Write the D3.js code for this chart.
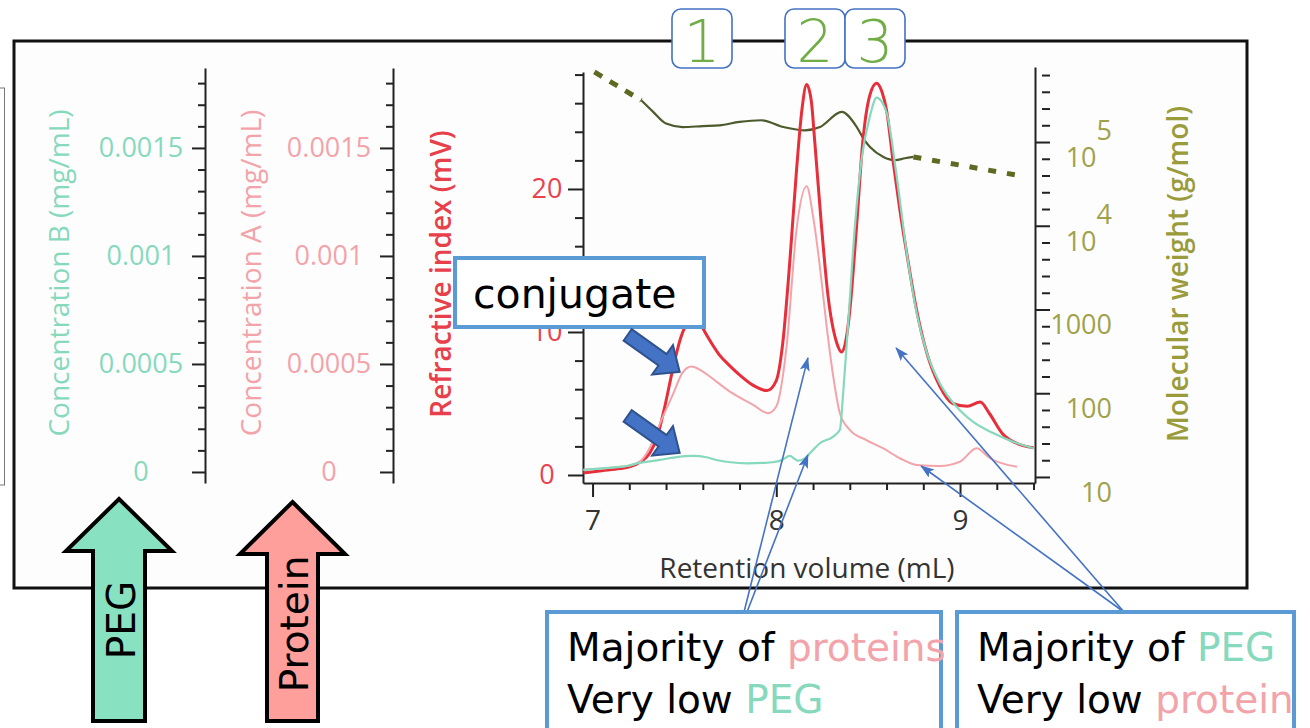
<!DOCTYPE html>
<html>
<head>
<meta charset="utf-8">
<script src="https://cdn.jsdelivr.net/npm/d3@7"></script>
<style>
body { margin: 0; background: #fff; }
svg { display: block; }
</style>
</head>
<body>
<script>
// refractive index trace (mV) against retention volume (mL)
var riVolume = [6.95, 7.05, 7.15, 7.21, 7.26, 7.31, 7.35, 7.39, 7.44, 7.48, 7.52, 7.55, 7.58, 7.62, 7.69, 7.75, 7.80, 7.87, 7.95, 8.00,
                8.035, 8.074, 8.11, 8.14, 8.165, 8.19, 8.21, 8.246, 8.28, 8.33, 8.355, 8.38, 8.40, 8.437, 8.47, 8.51, 8.546, 8.575, 8.60,
                8.635, 8.673, 8.71, 8.764, 8.82, 8.89, 8.96, 9.04, 9.11, 9.16, 9.23, 9.33, 9.40];
var riSignal = [0.15, 0.3, 0.45, 0.6, 0.9, 1.5, 2.6, 4.6, 7.6, 9.6, 10.7, 11.0, 10.7, 9.8, 8.4, 7.6, 7.0, 6.3, 5.9, 6.6,
                9.2, 15, 21.3, 25.6, 27.3, 26.2, 23.2, 17.4, 12.7, 9.2, 8.6, 9.5, 11.5, 17.4, 23.2, 26.6, 27.4, 26.8, 25.5,
                22, 18.5, 15.5, 11.5, 8.5, 6.2, 5.0, 4.8, 5.1, 4.3, 2.9, 2.1, 1.9];

// concentration A (protein, mg/mL)
var protVolume = [6.95, 7.1, 7.2, 7.26, 7.31, 7.35, 7.39, 7.438, 7.49, 7.538, 7.59, 7.638, 7.747, 7.874, 7.955, 8.0, 8.056, 8.11, 8.165, 8.20,
                  8.237, 8.274, 8.31, 8.346, 8.40, 8.49, 8.58, 8.673, 8.764, 8.89, 9.0, 9.09, 9.163, 9.31];
var protConc = [0.00001, 0.00002, 0.00003, 0.00005, 0.00011, 0.00019, 0.00027, 0.00036, 0.00046, 0.000488, 0.00047, 0.000442, 0.000372, 0.000311, 0.000272, 0.000303, 0.000581, 0.001122, 0.001323, 0.001184,
                0.000952, 0.000674, 0.000442, 0.000272, 0.000195, 0.000148, 0.00011, 0.0000635, 0.0000325, 0.0000278, 0.0000478, 0.00011, 0.0000635, 0.0000246];

// concentration B (PEG, mg/mL)
var pegVolume = [6.95, 7.1, 7.2, 7.24, 7.3, 7.365, 7.45, 7.547, 7.62, 7.674, 7.75, 7.84, 7.93, 7.98, 8.03, 8.074, 8.1, 8.117, 8.15, 8.183,
                 8.237, 8.31, 8.346, 8.364, 8.39, 8.428, 8.464, 8.51, 8.546, 8.60, 8.655, 8.71, 8.764, 8.82, 8.89, 8.98, 9.07, 9.18, 9.31, 9.40];
var pegConc = [0.00001, 0.00002, 0.00003, 0.00004, 0.000048, 0.0000557, 0.000068, 0.0000742, 0.000068, 0.0000557, 0.000045, 0.00004, 0.000042, 0.000045, 0.000055, 0.0000742, 0.00006, 0.0000524, 0.00006, 0.0000867,
               0.000133, 0.000164, 0.000195, 0.000365, 0.000674, 0.001138, 0.001447, 0.001648, 0.001733, 0.001664, 0.00137, 0.001014, 0.000736, 0.00055, 0.000411, 0.000303, 0.000233, 0.00018, 0.000133, 0.00011];

// molecular weight (g/mol): dashed fit ends + measured middle
var mwFitLowVolume = [7.01, 7.265];
var mwFitLow = [687000, 315000];
var mwVolume = [7.265, 7.33, 7.40, 7.49, 7.60, 7.69, 7.80, 7.918, 8.04, 8.156, 8.238, 8.356, 8.438, 8.48, 8.51, 8.583, 8.647, 8.70, 8.746];
var mwValue = [315000, 229000, 166000, 151000, 155000, 158000, 174000, 182000, 151000, 138000, 151000, 229000, 151000, 105000, 87300, 66400, 60700, 64000, 66400];
var mwFitHighVolume = [8.746, 9.31];
var mwFitHigh = [66400, 40200];

// axes ticks
var xTicks = [7, 8, 9];
var xTickLabels = ["7", "8", "9"];
var concTicks = [0, 0.0005, 0.001, 0.0015];
var concTickLabels = ["0", "0.0005", "0.001", "0.0015"];
var riTicks = [0, 10, 20];
var riTickLabels = ["0", "10", "20"];
var mwTicks = [10, 100, 1000, 1e4, 1e5];
var mwTickBase = ["10", "100", "1000", "10", "10"];
var mwTickExp = ["", "", "", "4", "5"];

var teal = "#86d9bd", pink = "#f3a3aa", red = "#e62f3b", olive = "#9a9c3c", blue = "#4472c4", boxBlue = "#5b9bd5";

var svg = d3.select("body").append("svg")
    .attr("width", 1310)
    .attr("height", 728);

var defs = svg.append("defs");
defs.append("marker")
    .attr("id", "head")
    .attr("markerUnits", "userSpaceOnUse")
    .attr("markerWidth", 14).attr("markerHeight", 10)
    .attr("refX", 13).attr("refY", 5)
    .attr("orient", "auto")
    .append("path")
    .attr("d", "M0,0L14,5L0,10L3,5z")
    .attr("fill", blue);

// little box peeking in at the left edge
svg.append("rect").attr("x", -10).attr("y", 88).attr("width", 14.5).attr("height", 397)
    .attr("fill", "none").attr("stroke", "#777").attr("stroke-width", 1);

// chart frame
svg.append("rect").attr("x", 14).attr("y", 41).attr("width", 1233).attr("height", 547)
    .attr("fill", "#fdfdfd").attr("stroke", "#111").attr("stroke-width", 3);

var x = d3.scaleLinear().domain([6.948, 9.408]).range([583, 1035]);
var yRI = d3.scaleLinear().domain([-0.56, 28.18]).range([483, 72]);
var yConc = d3.scaleLinear().domain([-0.000051, 0.00187]).range([483, 68]);
var yMW = d3.scaleLog().domain([Math.pow(10, 0.928), Math.pow(10, 5.896)]).range([483, 67]);

function styleAxis(g, color, size) {
  g.select(".domain").attr("stroke", "#222").attr("stroke-width", 2);
  g.selectAll(".tick line").attr("stroke", "#222").attr("stroke-width", 2);
  g.selectAll(".tick text").attr("fill", color)
      .attr("font-family", "Open Sans").attr("font-size", size);
}

function minorTicks(axis, xpos, values, size) {
  var g = svg.append("g").attr("transform", "translate(" + xpos + ",0)")
      .call(axis.tickValues(values).tickSize(size).tickFormat(""));
  g.select(".domain").remove();
  g.selectAll(".tick line").attr("stroke", "#222").attr("stroke-width", 2);
  return g;
}

// concentration B and A axes
[[205, teal, "Concentration B (mg/mL)", 58], [393, pink, "Concentration A (mg/mL)", 250]].forEach(function(a) {
  minorTicks(d3.axisLeft(yConc), a[0], d3.range(1, 19).map(function(i) { return i * 0.0001; })
      .filter(function(v) { return Math.abs(v * 10000 % 5) > 0.01; }), 7);
  var g = svg.append("g").attr("transform", "translate(" + a[0] + ",0)")
      .call(d3.axisLeft(yConc).tickValues(concTicks).tickSize(13).tickSizeOuter(0)
        .tickFormat(function(d, i) { return concTickLabels[i]; }));
  styleAxis(g, a[1], 27);
  g.selectAll(".tick text").attr("x", -64).attr("text-anchor", "middle");
  svg.append("text")
      .attr("transform", "translate(" + a[3] + ",273) rotate(-90)")
      .attr("text-anchor", "middle").attr("dominant-baseline", "central")
      .attr("font-family", "Open Sans").attr("font-size", 28)
      .attr("fill", a[1]).text(a[2]);
});

// refractive index axis
minorTicks(d3.axisLeft(yRI), 583, d3.range(2, 29, 2).filter(function(v) { return v % 10 != 0; }), 8);
var riAxis = svg.append("g").attr("transform", "translate(583,0)")
    .call(d3.axisLeft(yRI).tickValues(riTicks).tickSize(15).tickSizeOuter(0)
      .tickFormat(function(d, i) { return riTickLabels[i]; }));
styleAxis(riAxis, "#e8434e", 27);
riAxis.selectAll(".tick text").attr("x", -36).attr("text-anchor", "middle");
svg.append("text")
    .attr("transform", "translate(440,274) rotate(-90)")
    .attr("text-anchor", "middle").attr("dominant-baseline", "central")
    .attr("font-family", "Open Sans").attr("font-size", 28).attr("font-weight", 600)
    .attr("fill", "#e8404b").text("Refractive index (mV)");

// molecular weight axis (log)
var mwMinor = [];
for (var k = 1; k <= 5; k++) {
  for (var j = 1; j <= 4; j++) {
    if (k + j * 0.2 <= 5.89) mwMinor.push(Math.pow(10, k + j * 0.2));
  }
}
minorTicks(d3.axisRight(yMW), 1035, mwMinor, 15).selectAll(".tick line").attr("x1", 7);
var mwAxis = svg.append("g").attr("transform", "translate(1035,0)")
    .call(d3.axisRight(yMW).tickValues(mwTicks).tickSize(15).tickSizeOuter(0).tickFormat(""));
styleAxis(mwAxis, olive, 27);
mwAxis.selectAll(".tick").each(function(d, i) {
  var t = d3.select(this).select("text")
      .attr("x", 77).attr("y", 15).attr("dy", "0.35em")
      .attr("text-anchor", "end").attr("fill", "#9fa24a");
  t.append("tspan").text(mwTickBase[i]);
  if (mwTickExp[i]) t.append("tspan").attr("dy", -27).text(mwTickExp[i]);
});
svg.append("text")
    .attr("transform", "translate(1177,274) rotate(-90)")
    .attr("text-anchor", "middle").attr("dominant-baseline", "central")
    .attr("font-family", "Open Sans").attr("font-size", 28).attr("font-weight", 600)
    .attr("fill", olive).text("Molecular weight (g/mol)");

// retention volume axis
var xMinor = d3.range(7.2, 9.41, 0.2).filter(function(v) { return Math.abs(v - Math.round(v)) > 0.01; });
svg.append("g").attr("transform", "translate(0,483)").call(function(g) {
  g.call(d3.axisBottom(x).tickValues(xMinor).tickSize(7).tickFormat(""));
  g.select(".domain").remove();
  g.selectAll(".tick line").attr("stroke", "#222").attr("stroke-width", 2);
});
var xAxis = svg.append("g").attr("transform", "translate(0,483)")
    .call(d3.axisBottom(x).tickValues(xTicks).tickSize(14).tickSizeOuter(0)
      .tickFormat(function(d, i) { return xTickLabels[i]; }));
styleAxis(xAxis, "#333", 28);
xAxis.selectAll(".tick text").attr("y", 47).attr("dy", 0);
svg.append("text")
    .attr("x", 807).attr("y", 578)
    .attr("text-anchor", "middle")
    .attr("font-family", "Open Sans").attr("font-size", 28)
    .attr("fill", "#333").text("Retention volume (mL)");

// traces
function trace(vols, vals, yScale, color, width, dash) {
  var pts = vols.map(function(v, i) { return [v, vals[i]]; });
  var line = d3.line()
      .x(function(d) { return x(d[0]); })
      .y(function(d) { return yScale(d[1]); })
      .curve(d3.curveMonotoneX);
  return svg.append("path").datum(pts)
      .attr("d", line)
      .attr("fill", "none")
      .attr("stroke", color)
      .attr("stroke-width", width)
      .attr("stroke-dasharray", dash || null)
      .attr("stroke-linejoin", "round");
}

trace(mwFitLowVolume, mwFitLow, yMW, "#5d6b22", 5, "9,9");
trace(mwVolume, mwValue, yMW, "#4d5a2c", 2.2);
trace(mwFitHighVolume, mwFitHigh, yMW, "#5d6b22", 5, "8,11");
trace(riVolume, riSignal, yRI, red, 3);
trace(protVolume, protConc, yConc, pink, 2);
trace(pegVolume, pegConc, yConc, teal, 2.2);

// thin pointer arrows from the bottom boxes
var pointers = [
  [744, 612, 8.172, 0.000528],
  [747, 612, 8.172, 0.0000787],
  [1124, 612, 8.652, 0.000574],
  [1124, 612, 8.788, 0.0000278]
];
pointers.forEach(function(p) {
  svg.append("line")
      .attr("x1", p[0]).attr("y1", p[1])
      .attr("x2", x(p[2])).attr("y2", yConc(p[3]))
      .attr("stroke", blue).attr("stroke-width", 1.6)
      .attr("marker-end", "url(#head)");
});

// "conjugate" callout
svg.append("rect").attr("x", 455).attr("y", 258).attr("width", 249).attr("height", 69)
    .attr("fill", "#fff").attr("stroke", boxBlue).attr("stroke-width", 4);
svg.append("text").attr("x", 473).attr("y", 308)
    .attr("font-family", "DejaVu Sans").attr("font-size", 41)
    .attr("fill", "#000").text("conjugate");

function blockArrow(tail, tip, shaftW, headW, headL) {
  var dx = tip[0] - tail[0], dy = tip[1] - tail[1];
  var L = Math.sqrt(dx * dx + dy * dy), ux = dx / L, uy = dy / L, nx = -uy, ny = ux;
  var bx = tip[0] - ux * headL, by = tip[1] - uy * headL;
  var p = [
    [tail[0] + nx * shaftW / 2, tail[1] + ny * shaftW / 2],
    [bx + nx * shaftW / 2, by + ny * shaftW / 2],
    [bx + nx * headW / 2, by + ny * headW / 2],
    tip,
    [bx - nx * headW / 2, by - ny * headW / 2],
    [bx - nx * shaftW / 2, by - ny * shaftW / 2],
    [tail[0] - nx * shaftW / 2, tail[1] - ny * shaftW / 2]
  ];
  return p.map(function(q) { return q.join(","); }).join(" ");
}

[[7.474, 0.000463], [7.474, 0.000088]].forEach(function(t) {
  var tip = [x(t[0]), yConc(t[1])];
  svg.append("polygon")
      .attr("points", blockArrow([tip[0] - 52, tip[1] - 37], tip, 14, 36, 21))
      .attr("fill", blue).attr("stroke", "#2f528f").attr("stroke-width", 2)
      .attr("stroke-linejoin", "miter");
});

// bottom callouts
var callouts = [
  {x: 547, w: 394, l1: "proteins", c1: pink, l2: "PEG", c2: teal},
  {x: 957, w: 337, l1: "PEG", c1: teal, l2: "protein", c2: pink}
];
callouts.forEach(function(c) {
  svg.append("rect").attr("x", c.x).attr("y", 612).attr("width", c.w).attr("height", 140)
      .attr("fill", "#fff").attr("stroke", boxBlue).attr("stroke-width", 4);
});
callouts.forEach(function(c) {
  var t1 = svg.append("text").attr("x", c.x + 20).attr("y", 661)
      .attr("font-family", "DejaVu Sans").attr("font-size", 39).attr("fill", "#000");
  t1.append("tspan").text("Majority of ");
  t1.append("tspan").attr("fill", c.c1).text(c.l1);
  var t2 = svg.append("text").attr("x", c.x + 20).attr("y", 713)
      .attr("font-family", "DejaVu Sans").attr("font-size", 39).attr("fill", "#000");
  t2.append("tspan").text("Very low ");
  t2.append("tspan").attr("fill", c.c2).text(c.l2);
});

// big up arrows: PEG and Protein
var bigArrows = [
  {cx: 119, tip: 499, base: 551, head: 53, shaft: 26, fill: "#88e2c2", label: "PEG", ly: 620},
  {cx: 292.5, tip: 502, base: 554, head: 52.5, shaft: 25.5, fill: "#ff9f9b", label: "Protein", ly: 624}
];
bigArrows.forEach(function(a) {
  var pts = [[a.cx, a.tip], [a.cx + a.head, a.base], [a.cx + a.shaft, a.base], [a.cx + a.shaft, 721],
             [a.cx - a.shaft, 721], [a.cx - a.shaft, a.base], [a.cx - a.head, a.base]];
  svg.append("polygon")
      .attr("points", pts.map(function(q) { return q.join(","); }).join(" "))
      .attr("fill", a.fill).attr("stroke", "#000").attr("stroke-width", 4)
      .attr("stroke-linejoin", "miter");
  svg.append("text")
      .attr("transform", "translate(" + (a.cx + 2) + "," + a.ly + ") rotate(-90)")
      .attr("text-anchor", "middle").attr("dominant-baseline", "central")
      .attr("font-family", "DejaVu Sans").attr("font-size", 39)
      .attr("fill", "#000").text(a.label);
});

// peak numbers
var peakLabels = ["1", "2", "3"];
var peakBoxX = [672, 785, 845];
peakLabels.forEach(function(n, i) {
  svg.append("rect").attr("x", peakBoxX[i]).attr("y", 9).attr("width", 60).attr("height", 59).attr("rx", 9)
      .attr("fill", "#fff").attr("stroke", blue).attr("stroke-width", 1.6);
  svg.append("text").attr("x", peakBoxX[i] + 30).attr("y", 62)
      .attr("text-anchor", "middle")
      .attr("font-family", "DejaVu Sans").attr("font-size", 58).attr("font-weight", 200)
      .attr("fill", "#70ad47").text(n);
});
</script>
</body>
</html>
